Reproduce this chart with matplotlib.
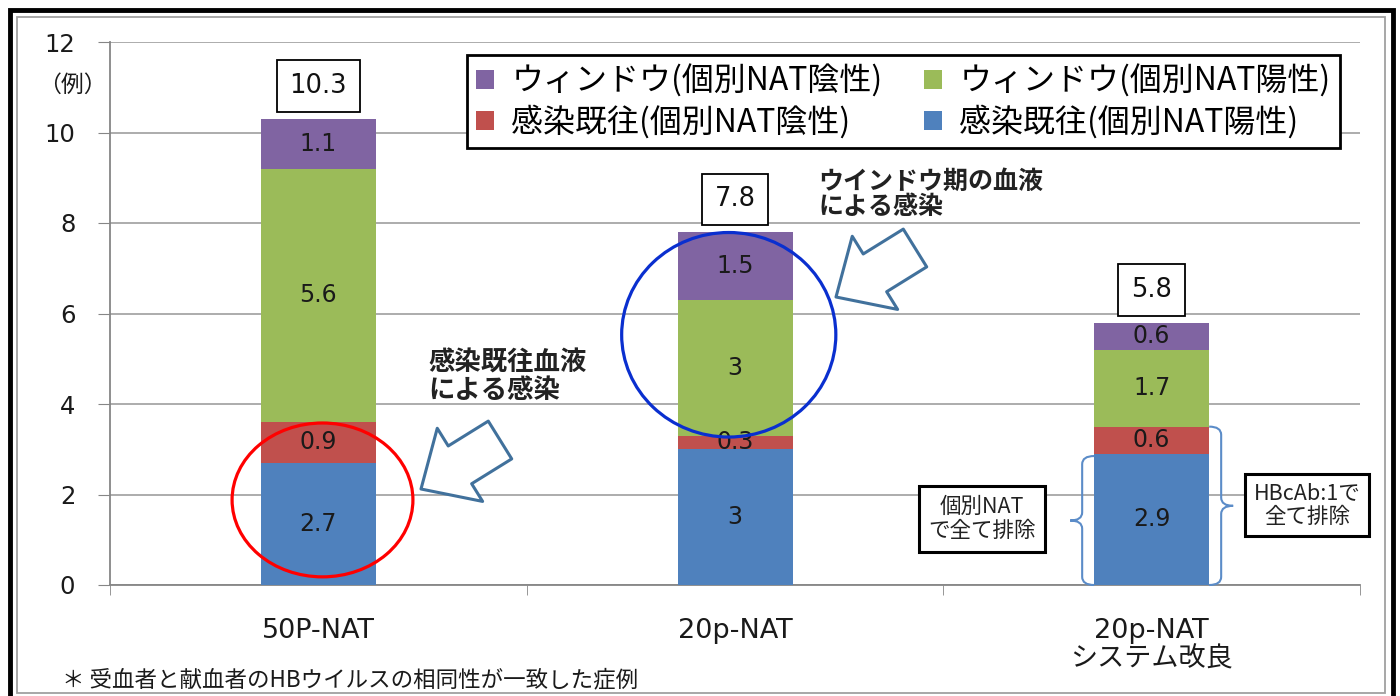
import matplotlib.pyplot as plt
from matplotlib.patches import Ellipse, Rectangle, PathPatch
from matplotlib.path import Path
import numpy as np

plt.rcParams['font.family'] = ['DejaVu Sans', 'Noto Sans CJK JP']
JP = ['Noto Sans CJK JP', 'DejaVu Sans']

categories = ['50P-NAT', '20p-NAT', '20p-NAT\nシステム改良']
blue_vals = [2.7, 3, 2.9]      # 感染既往(個別NAT陽性)
red_vals = [0.9, 0.3, 0.6]     # 感染既往(個別NAT陰性)
green_vals = [5.6, 3, 1.7]     # ウィンドウ(個別NAT陽性)
purple_vals = [1.1, 1.5, 0.6]  # ウィンドウ(個別NAT陰性)
totals = [10.3, 7.8, 5.8]

series = [
    ('感染既往(個別NAT陽性)', blue_vals, '#4F81BD'),
    ('感染既往(個別NAT陰性)', red_vals, '#C0504D'),
    ('ウィンドウ(個別NAT陽性)', green_vals, '#9BBB59'),
    ('ウィンドウ(個別NAT陰性)', purple_vals, '#8064A2'),
]

fig = plt.figure(figsize=(14, 6.96), dpi=100)
ax = fig.add_axes([110/1400, 1-585/696, 1250/1400, 543/696])

x = np.arange(len(categories))
bottom = np.zeros(len(categories))
bars = {}
for name, vals, col in series:
    b = ax.bar(x, vals, width=0.276, bottom=bottom, color=col, label=name, zorder=3)
    ax.bar_label(b, labels=['{:g}'.format(v) for v in vals], label_type='center',
                 fontsize=17, color='#1a1a1a', zorder=4)
    bars[name] = b
    bottom = bottom + np.array(vals)

# totals in boxes
for xi, t in zip(x, totals):
    ax.text(xi, t + 0.72, '{:.1f}'.format(t), ha='center', va='center', fontsize=18.5,
            color='#111111', zorder=5,
            bbox=dict(boxstyle='square,pad=0.5', fc='white', ec='black', lw=1.3))

ax.set_xlim(-0.5, 2.5)
ax.set_ylim(0, 12)
ax.set_yticks(range(0, 13, 2))
ax.tick_params(axis='y', labelsize=17.5, length=9, pad=16, color='#868686', labelcolor='#1a1a1a')
ax.set_xticks(x)
ax.set_xticklabels(categories, fontsize=19.5, color='#1a1a1a', linespacing=1.1)
ax.tick_params(axis='x', which='major', length=0, pad=24)
ax.set_xticks([-0.5, 0.5, 1.5, 2.5], minor=True)
ax.tick_params(axis='x', which='minor', length=7, color='#868686')
ax.grid(axis='y', color='#A6A6A6', lw=1.3, zorder=0)
for s in ['top', 'right']:
    ax.spines[s].set_visible(False)
for s in ['left', 'bottom']:
    ax.spines[s].set_color('#868686')
    ax.spines[s].set_linewidth(1.3)

# legend
order = ['ウィンドウ(個別NAT陰性)', '感染既往(個別NAT陰性)', 'ウィンドウ(個別NAT陽性)', '感染既往(個別NAT陽性)']
leg = ax.legend([bars[n] for n in order], order, ncol=2, loc='upper right',
                bbox_to_anchor=(0.984, 0.976), prop={'family': JP, 'size': 23},
                frameon=True, fancybox=False, edgecolor='black', framealpha=1,
                handlelength=0.55, handleheight=0.55, handletextpad=0.55,
                columnspacing=1.3, labelspacing=0.22, borderpad=0.3, borderaxespad=0)
leg.get_frame().set_linewidth(2)
leg.set_zorder(6)

# circles
ax.add_patch(Ellipse((0.01, 1.88), 0.434, 3.4, fill=False, ec='#FF0000', lw=2.3, zorder=5))
ax.add_patch(Ellipse((0.985, 5.53), 0.514, 4.52, fill=False, ec='#0A2FCF', lw=2.3, zorder=5))

# hollow arrows
arrow_style = 'simple,head_length=3.3,head_width=6.2,tail_width=3.2'
for tip, tail in [((421, 696-489), (500, 696-440)), ((836, 696-297), (915, 696-248))]:
    ax.annotate('', xy=tip, xytext=tail, xycoords='figure pixels', textcoords='figure pixels',
                arrowprops=dict(arrowstyle=arrow_style, mutation_scale=10, fc='white',
                                ec='#41719C', lw=2.2, shrinkA=0, shrinkB=0), zorder=6)

fig.text(428/1400, 1-350/696, '感染既往血液\nによる感染', fontsize=19, fontweight='bold',
         family=JP, color='#222222', va='top', ha='left', linespacing=1.0)
fig.text(818/1400, 1-170/696, 'ウインドウ期の血液\nによる感染', fontsize=18, fontweight='bold',
         family=JP, color='#222222', va='top', ha='left', linespacing=1.05)


# braces
def brace(xe, y0, y1, side, color='#5B8CC8'):
    d1 = side * 12 / 416.7
    d2 = side * 24 / 416.7
    r = 0.18
    ym = (y0 + y1) / 2
    verts = [(xe, y1), (xe + d1, y1), (xe + d1, y1 - r),
             (xe + d1, ym + r), (xe + d1, ym), (xe + d2, ym),
             (xe + d1, ym), (xe + d1, ym - r),
             (xe + d1, y0 + r), (xe + d1, y0), (xe, y0)]
    codes = [Path.MOVETO, Path.CURVE3, Path.CURVE3,
             Path.LINETO, Path.CURVE3, Path.CURVE3,
             Path.CURVE3, Path.CURVE3,
             Path.LINETO, Path.CURVE3, Path.CURVE3]
    ax.add_patch(PathPatch(Path(verts, codes), fill=False, ec=color, lw=1.5, zorder=5,
                           clip_on=False))


brace(2 - 0.138, 0, blue_vals[2] - 0.05, -1)
brace(2 + 0.138, 0, blue_vals[2] + red_vals[2], 1)

fig.text(982/1400, 1-519/696, '個別NAT\nで全て排除', fontsize=15.5, family=JP, ha='center',
         va='center', color='#222222', linespacing=1.1,
         bbox=dict(boxstyle='square,pad=0.45', fc='white', ec='black', lw=2.2))
fig.text(1307/1400, 1-505/696, 'HBcAb:1で\n全て排除', fontsize=15.5, family=JP, ha='center',
         va='center', color='#222222', linespacing=1.1,
         bbox=dict(boxstyle='square,pad=0.4', fc='white', ec='black', lw=2.2))

fig.text(72/1400, 1-85/696, '（例）', fontsize=16.5, family=JP, ha='center', va='center',
         color='#1a1a1a')
fig.text(62/1400, 1-680/696, '＊ 受血者と献血者のHBウイルスの相同性が一致した症例', fontsize=16.2,
         family=JP, ha='left', va='center', color='#1a1a1a')

# slide frame
fig.patches.append(Rectangle((10/1400, 1-715/696), 1383/1400, 705/696, transform=fig.transFigure,
                             fill=False, ec='black', lw=3.5, clip_on=False))
fig.patches.append(Rectangle((17/1400, 1-693/696), 1368/1400, 676/696, transform=fig.transFigure,
                             fill=False, ec='#A0A0A0', lw=1.3, clip_on=False))

fig.savefig('out.png', dpi=100)
